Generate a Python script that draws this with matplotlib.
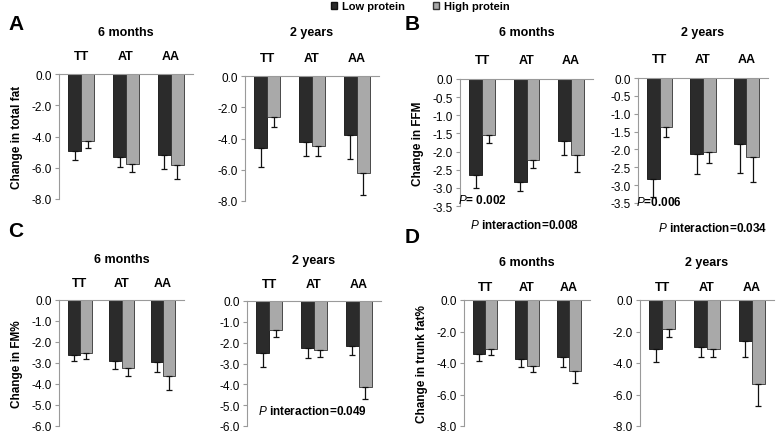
import matplotlib
matplotlib.use('Agg')
import matplotlib.pyplot as plt
import numpy as np
from matplotlib.patches import Patch

plt.rcParams['font.family'] = ['Liberation Sans', 'DejaVu Sans']
plt.rcParams['axes.unicode_minus'] = False
plt.rcParams['mathtext.fontset'] = 'custom'
plt.rcParams['mathtext.it'] = 'Liberation Sans:italic'

genotypes = ['TT', 'AT', 'AA']
periods = ['6 months', '2 years']

# A: change in total fat
fat_low_6m = [-4.95, -5.3, -5.2]
fat_low_6m_err = [0.55, 0.65, 0.85]
fat_high_6m = [-4.3, -5.75, -5.85]
fat_high_6m_err = [0.45, 0.55, 0.9]
fat_low_2y = [-4.6, -4.2, -3.8]
fat_low_2y_err = [1.2, 0.95, 1.5]
fat_high_2y = [-2.65, -4.45, -6.2]
fat_high_2y_err = [0.6, 0.7, 1.4]

# B: change in FFM
ffm_low_6m = [-2.65, -2.83, -1.7]
ffm_low_6m_err = [0.35, 0.27, 0.4]
ffm_high_6m = [-1.55, -2.22, -2.1]
ffm_high_6m_err = [0.22, 0.24, 0.46]
ffm_low_2y = [-2.83, -2.12, -1.85]
ffm_low_2y_err = [0.5, 0.56, 0.8]
ffm_high_2y = [-1.37, -2.07, -2.2]
ffm_high_2y_err = [0.28, 0.3, 0.7]

# C: change in FM%
fmp_low_6m = [-2.6, -2.9, -2.95]
fmp_low_6m_err = [0.3, 0.4, 0.5]
fmp_high_6m = [-2.5, -3.25, -3.6]
fmp_high_6m_err = [0.3, 0.35, 0.7]
fmp_low_2y = [-2.5, -2.25, -2.15]
fmp_low_2y_err = [0.65, 0.5, 0.45]
fmp_high_2y = [-1.4, -2.35, -4.15]
fmp_high_2y_err = [0.35, 0.35, 0.55]

# D: change in trunk fat%
trk_low_6m = [-3.45, -3.75, -3.6]
trk_low_6m_err = [0.4, 0.5, 0.65]
trk_high_6m = [-3.1, -4.2, -4.5]
trk_high_6m_err = [0.4, 0.4, 0.8]
trk_low_2y = [-3.1, -3.0, -2.6]
trk_low_2y_err = [0.85, 0.65, 1.0]
trk_high_2y = [-1.85, -3.1, -5.35]
trk_high_2y_err = [0.5, 0.55, 1.35]

DARK = '#2b2b2b'
LIGHT = '#a9a9a9'
GRID = '#9a9a9a'

W, H = 778, 435
fig = plt.figure(figsize=(W / 100, H / 100), dpi=100)


def px_axes(x0, y0, x1, y1):
	# pixel box (top-left origin) -> figure axes
	return fig.add_axes([x0 / W, 1 - y1 / H, (x1 - x0) / W, (y1 - y0) / H])


def bar_panel(ax, low, low_err, high, high_err, ymin, ystep, title, title_off, lab_pad):
	x = np.arange(len(genotypes))
	bw = 0.29
	ax.bar(x - bw / 2, low, bw, color=DARK, edgecolor='#111111', linewidth=0.6, zorder=2)
	ax.bar(x + bw / 2, high, bw, color=LIGHT, edgecolor='#333333', linewidth=0.6, zorder=2)
	ax.errorbar(x - bw / 2, low, yerr=[low_err, np.zeros(3)], fmt='none',
		ecolor='#111111', elinewidth=0.9, capsize=2.5, capthick=0.9, zorder=3)
	ax.errorbar(x + bw / 2, high, yerr=[high_err, np.zeros(3)], fmt='none',
		ecolor='#111111', elinewidth=0.9, capsize=2.5, capthick=0.9, zorder=3)
	ax.set_xlim(-0.5, 2.5)
	ax.set_ylim(ymin, 0)
	ax.set_yticks(np.arange(0, ymin - ystep / 2, -ystep))
	ax.yaxis.set_major_formatter(matplotlib.ticker.FormatStrFormatter('%.1f'))
	ax.tick_params(axis='y', labelsize=8.5, colors=GRID, labelcolor='black',
		length=3, width=0.8, pad=2)
	ax.xaxis.tick_top()
	ax.set_xticks(x)
	ax.set_xticklabels(genotypes, fontsize=9, fontweight='bold')
	ax.tick_params(axis='x', length=0, pad=lab_pad)
	for s in ['right', 'bottom']:
		ax.spines[s].set_visible(False)
	for s in ['left', 'top']:
		ax.spines[s].set_color(GRID)
		ax.spines[s].set_linewidth(0.8)
	ax.set_facecolor('none')
	ax.annotate(title, (0.5, 1), xycoords='axes fraction', xytext=(0, title_off * 0.72),
		textcoords='offset points', ha='center', va='center', fontsize=9, fontweight='bold')


# panel boxes in pixels: (x0, y0, x1, y1), title offset px, category label pad pt
panels = [
	('A', 'Change in total fat', -8.0, 2.0,
		[(59, 75, 193, 200), (245, 77, 379, 202)], [42, 44], 9,
		[(fat_low_6m, fat_low_6m_err, fat_high_6m, fat_high_6m_err),
		 (fat_low_2y, fat_low_2y_err, fat_high_2y, fat_high_2y_err)]),
	('B', 'Change in FFM', -3.5, 0.5,
		[(460, 80, 593, 207), (638, 79, 768, 204)], [47, 46], 9.5,
		[(ffm_low_6m, ffm_low_6m_err, ffm_high_6m, ffm_high_6m_err),
		 (ffm_low_2y, ffm_low_2y_err, ffm_high_2y, ffm_high_2y_err)]),
	('C', 'Change in FM%', -6.0, 1.0,
		[(59, 301, 184, 427), (247, 302, 381, 427)], [41, 41], 8,
		[(fmp_low_6m, fmp_low_6m_err, fmp_high_6m, fmp_high_6m_err),
		 (fmp_low_2y, fmp_low_2y_err, fmp_high_2y, fmp_high_2y_err)]),
	('D', 'Change in trunk fat%', -8.0, 2.0,
		[(464, 301, 590, 427), (640, 301, 774, 427)], [38, 38], 5,
		[(trk_low_6m, trk_low_6m_err, trk_high_6m, trk_high_6m_err),
		 (trk_low_2y, trk_low_2y_err, trk_high_2y, trk_high_2y_err)]),
]

for letter, ylabel, ymin, ystep, boxes, toffs, lpad, series in panels:
	for i, (box, vals) in enumerate(zip(boxes, series)):
		ax = px_axes(*box)
		bar_panel(ax, *vals, ymin, ystep, periods[i], toffs[i], lpad)
		if i == 0:
			ax.set_ylabel(ylabel, fontsize=8.5, fontweight='bold', labelpad=6)

# panel letters
fig.text(8 / W, 1 - 25 / H, 'A', fontsize=15, fontweight='bold', va='center')
fig.text(405 / W, 1 - 25 / H, 'B', fontsize=15, fontweight='bold', va='center')
fig.text(8 / W, 1 - 232 / H, 'C', fontsize=15, fontweight='bold', va='center')
fig.text(405 / W, 1 - 238 / H, 'D', fontsize=15, fontweight='bold', va='center')

# p-values
fig.text(458 / W, 1 - 201 / H, '$P$= 0.002', fontsize=8.5, fontweight='bold', va='center')
fig.text(636 / W, 1 - 203 / H, '$P$=0.006', fontsize=8.5, fontweight='bold', va='center')
fig.text(470 / W, 1 - 226 / H, '$P$ interaction=0.008', fontsize=8.5, fontweight='bold', va='center')
fig.text(658 / W, 1 - 228 / H, '$P$ interaction=0.034', fontsize=8.5, fontweight='bold', va='center')
fig.text(258 / W, 1 - 412 / H, '$P$ interaction=0.049', fontsize=8.5, fontweight='bold', va='center')

handles = [Patch(facecolor=DARK, edgecolor='#111111', label='Low protein'),
	Patch(facecolor=LIGHT, edgecolor='#333333', label='High protein')]
fig.legend(handles=handles, loc='center', bbox_to_anchor=(420 / W, 1 - 7 / H), ncol=2,
	frameon=False, prop={'size': 8, 'weight': 'bold'}, handlelength=0.6, handleheight=0.6,
	handletextpad=0.4, columnspacing=2.5, borderpad=0)

fig.savefig('out.png', dpi=100)
